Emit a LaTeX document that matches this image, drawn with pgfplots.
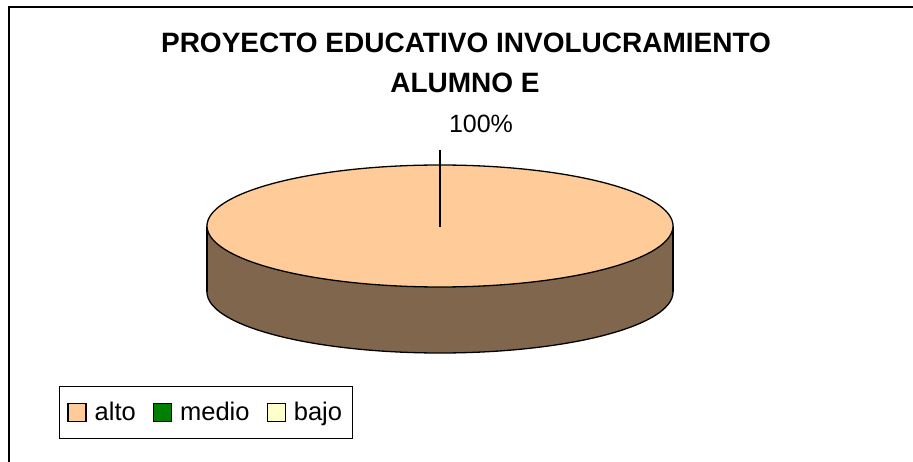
\documentclass[border=0pt]{standalone}
\usepackage{pgfplots}
\pgfplotsset{compat=1.18}
\usepackage{fontspec}
\setmainfont{Liberation Sans}
\definecolor{alto}{HTML}{FFCC99}
\definecolor{altoside}{HTML}{80664C}
\definecolor{medio}{HTML}{008000}
\definecolor{bajo}{HTML}{FFFFCC}
\begin{document}
\begin{tikzpicture}
\begin{axis}[
  width=913pt, height=461pt, scale only axis,
  xmin=0, xmax=913, ymin=0, ymax=461,
  hide axis, clip=true,
  legend columns=3,
  legend style={at={(59/913,75/461)}, anchor=north west, draw=black, line width=0.8pt,
    font=\fontsize{25.5}{29}\selectfont, inner xsep=8pt, inner ysep=14pt,
    /tikz/every odd column/.append style={column sep=6pt},
    /tikz/every even column/.append style={column sep=15pt}},
  legend image code/.code={\draw[#1, line width=1.3pt] (0pt,-9pt) rectangle (18pt,9pt);},
]
% values: alto 100, medio 0, bajo 0  -> a single full slice
% side of the cylinder
\addplot[draw=none, fill=altoside, domain=0:360, samples=181, forget plot] ({440+233*cos(x)},{169+61*sin(x)});
\addplot[draw=none, fill=altoside, forget plot] coordinates {(207,169) (673,169) (673,235) (207,235)} -- cycle;
\addplot[draw=black, line width=1.3pt, domain=180:360, samples=121, forget plot] ({440+233*cos(x)},{169+61*sin(x)});
\addplot[draw=black, line width=1.3pt, forget plot] coordinates {(207,169) (207,235)};
\addplot[draw=black, line width=1.3pt, forget plot] coordinates {(673,169) (673,235)};
% top face
\addplot[draw=black, line width=1.3pt, fill=alto, domain=0:360, samples=181, forget plot] ({440+233*cos(x)},{235+61*sin(x)});
% leader line
\addplot[draw=black, line width=1.3pt, forget plot] coordinates {(440,311) (440,234)};
\node[font=\fontsize{25}{30}\selectfont] at (axis cs:481,337) {100\%};
% title
\node[font=\fontsize{28}{33}\bfseries\selectfont] at (axis cs:466,418) {PROYECTO EDUCATIVO INVOLUCRAMIENTO};
\node[font=\fontsize{28}{33}\bfseries\selectfont] at (axis cs:465,378) {ALUMNO E};
% chart frame (partly cropped)
\draw[black, line width=1.5pt] (axis cs:9,-5) -- (axis cs:9,454) -- (axis cs:920,454);
\addlegendimage{fill=alto, draw=black}
\addlegendentry{alto}
\addlegendimage{fill=medio, draw=black}
\addlegendentry{medio}
\addlegendimage{fill=bajo, draw=black}
\addlegendentry{bajo\hspace{6pt}}
\end{axis}
\pgfresetboundingbox
\path[use as bounding box] (0,0) rectangle (913pt,461pt);
\end{tikzpicture}
\end{document}
